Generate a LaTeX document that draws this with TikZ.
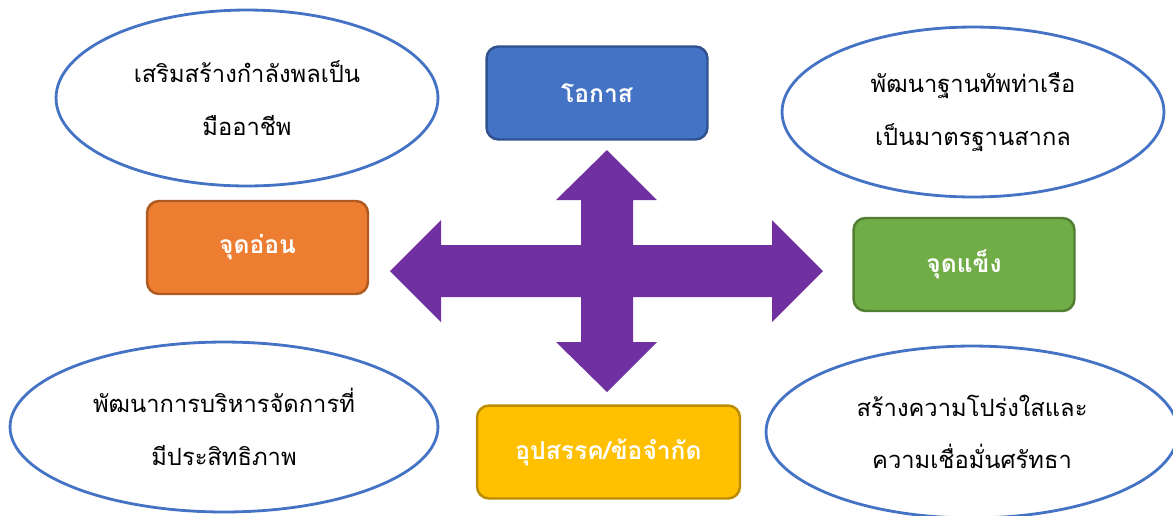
\documentclass[tikz,border=0pt]{standalone}
\usepackage{fontspec}
\newfontfamily\thaifont[Script=Thai]{Loma}
\usetikzlibrary{shapes.geometric}
\definecolor{ellblue}{HTML}{4472C4}
\definecolor{oppfill}{HTML}{4472C4}
\definecolor{oppline}{HTML}{2F528F}
\definecolor{weakfill}{HTML}{ED7D31}
\definecolor{weakline}{HTML}{AE5A21}
\definecolor{strongfill}{HTML}{70AD47}
\definecolor{strongline}{HTML}{507E32}
\definecolor{threatfill}{HTML}{FFC000}
\definecolor{threatline}{HTML}{BC8C00}
\definecolor{crosspurple}{HTML}{7030A0}
\begin{document}
\begin{tikzpicture}[x=0.02cm,y=-0.02cm,
        swot/.style={rounded corners=0.24cm,line width=1.4pt,minimum width=4.42cm,minimum height=1.86cm,
            text=white,font=\thaifont\bfseries\fontsize{14}{18}\selectfont},
        goal/.style={ellipse,draw=ellblue,line width=1.6pt,inner sep=0pt,align=center,
            font=\thaifont\fontsize{13.5}{30}\selectfont}]
        \useasboundingbox (0,0) rectangle (1173,515);

        %%%%%%%%%% Ellissi %%%%%%%%%%
        \node[goal,minimum width=7.64cm,minimum height=3.52cm] (goalTL) at (247,98) {เสริมสร้างกำลังพลเป็น\\มืออาชีพ};
        \node[goal,minimum width=7.64cm,minimum height=3.40cm] (goalTR) at (973,112) {พัฒนาฐานทัพท่าเรือ\\เป็นมาตรฐานสากล};
        \node[goal,minimum width=8.56cm,minimum height=3.40cm] (goalBL) at (224,427) {พัฒนาการบริหารจัดการที่\\มีประสิทธิภาพ};
        \node[goal,minimum width=8.24cm,minimum height=3.44cm] (goalBR) at (972,432) {สร้างความโปร่งใสและ\\ความเชื่อมั่นศรัทธา};

        %%%%%%%%%% Nodi %%%%%%%%%%
        \node[swot,fill=oppfill,draw=oppline] (opp) at (597,93) {โอกาส};
        \node[swot,fill=weakfill,draw=weakline] (weak) at (257.5,247.5) {จุดอ่อน};
        \node[swot,fill=strongfill,draw=strongline] (strong) at (964,264.5) {จุดแข็ง};
        \node[swot,fill=threatfill,draw=threatline,minimum width=5.26cm] (threat) at (608.5,452) {อุปสรรค/ข้อจำกัด};

        %%%%%%%%% Freccia %%%%%%%%%
        \fill[crosspurple] (607,150) -- (657,200) -- (633,200) -- (633,245) -- (772,245) -- (772,220)
            -- (823,271) -- (772,322) -- (772,297) -- (633,297) -- (633,342) -- (657,342) -- (607,392)
            -- (556,342) -- (581,342) -- (581,297) -- (441,297) -- (441,322) -- (390,271) -- (441,220)
            -- (441,245) -- (581,245) -- (581,200) -- (556,200) -- cycle;
    \end{tikzpicture}
\end{document}
